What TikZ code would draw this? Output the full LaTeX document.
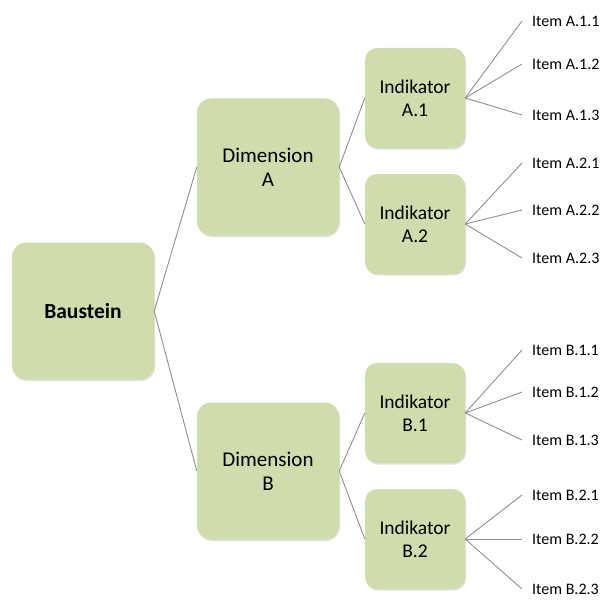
\documentclass[tikz,border=0pt]{standalone}
\usepackage{fontspec}
\setmainfont{Carlito}
\usetikzlibrary{shadows}
\definecolor{boxgreen}{HTML}{CFDDAD}
\definecolor{linegray}{HTML}{8E8E8E}
\begin{document}
\begin{tikzpicture}[x=1pt,y=-1pt,
  box/.style={fill=boxgreen,rounded corners=14pt,align=center,
    drop shadow={opacity=0.25,shadow xshift=1pt,shadow yshift=-1.5pt}},
  bigbox/.style={box,minimum width=142pt,minimum height=137pt,font=\fontsize{21}{24}\selectfont},
  indbox/.style={box,rounded corners=12pt,minimum width=100pt,minimum height=100pt,font=\fontsize{19.5}{23}\selectfont},
  item/.style={anchor=west,inner xsep=10pt,inner ysep=0pt,font=\fontsize{16}{18}\selectfont},
  conn/.style={draw=linegray,line width=0.9pt}]
\useasboundingbox (0,0) rectangle (607,599);
% boxes
\node[bigbox,font=\fontsize{21.5}{24}\selectfont\bfseries] (baustein) at (83,311) {Baustein};
\node[bigbox] (dimA) at (268,167) {Dimension\\A};
\node[bigbox] (dimB) at (268,471) {Dimension\\B};
\node[indbox] (indA1) at (415,98) {Indikator\\A.1};
\node[indbox] (indA2) at (415,224) {Indikator\\A.2};
\node[indbox] (indB1) at (415,413) {Indikator\\B.1};
\node[indbox] (indB2) at (415,539) {Indikator\\B.2};
% items
\foreach \n/\t/\y in {A11/A.1.1/21,A12/A.1.2/64,A13/A.1.3/115,
                      A21/A.2.1/163,A22/A.2.2/210,A23/A.2.3/258,
                      B11/B.1.1/350,B12/B.1.2/392,B13/B.1.3/440,
                      B21/B.2.1/495,B22/B.2.2/539,B23/B.2.3/589}
  \node[item] (item\n) at (522,\y) {Item \t};
% connectors
\draw[conn] (baustein.east) -- (dimA.west);
\draw[conn] (baustein.east) -- (dimB.west);
\foreach \a/\b in {dimA/indA1,dimA/indA2,dimB/indB1,dimB/indB2}
  \draw[conn] (\a.east) -- (\b.west);
\foreach \a/\b in {A1,A2,B1,B2}
  \foreach \c in {1,2,3}
    \draw[conn] (ind\a.east) -- (item\b\c.west);
\end{tikzpicture}
\end{document}
